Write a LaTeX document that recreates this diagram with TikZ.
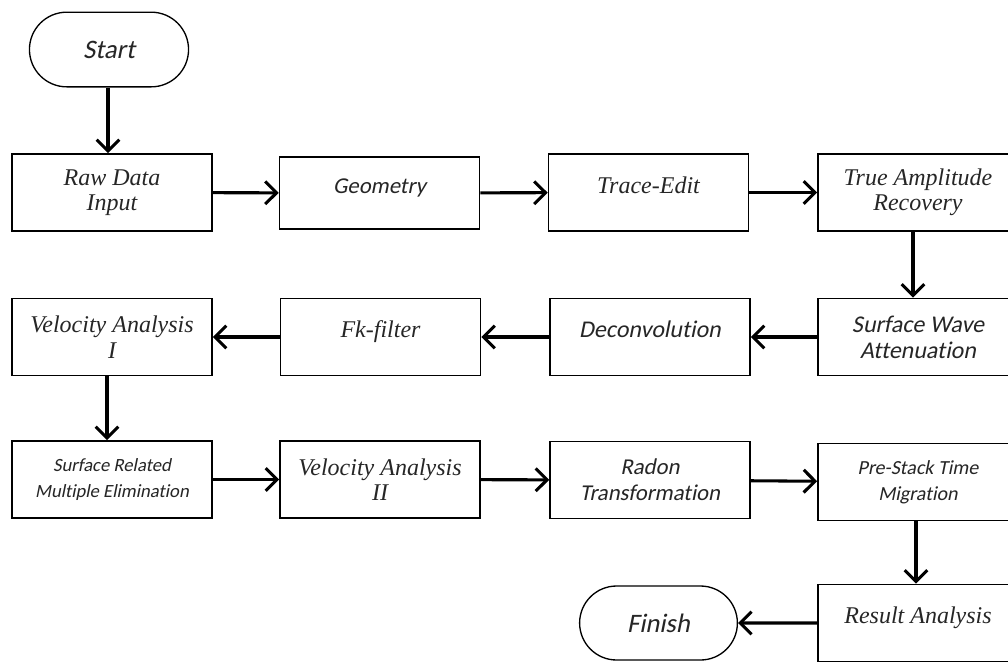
\documentclass[tikz,border=0pt]{standalone}
\usepackage{fontspec}
\setmainfont{Liberation Serif}
\newfontfamily\calfont[FakeSlant=0.2,Ligatures=NoCommon]{Carlito}
\usepackage{tikz}
\usetikzlibrary{arrows.meta,shapes.misc}

\tikzset{
  stepbox/.style={draw, line width=1.2pt, text=black!85, align=center,
    minimum width=150pt, minimum height=57.75pt, inner sep=2pt},
  oneline/.style={align=none, text height=0.75em, text depth=0.65em},
  endbox/.style={draw, line width=1pt, rounded rectangle, text=black!85,
    minimum width=126pt, minimum height=56pt},
  camb/.style={font=\fontsize{18}{19}\selectfont\itshape},
  cali/.style={font=\fontsize{#1}{19.5}\selectfont\calfont},
  flow/.style={-{Straight Barb[length=8.5pt,width=17pt,line width=2.3pt]}, line width=2.3pt},
}

\begin{document}
\begin{tikzpicture}[x=0.75pt,y=-0.75pt]
\clip (0,0) rectangle (1008,662);
\useasboundingbox (0,0) rectangle (1008,662);
%% start and first row
\node[endbox, cali=20] (start) at (109,49.5) {Start};
\node[stepbox, camb] (raw) at (112,192.5) {Raw Data\\Input};
\node[stepbox, cali=17, oneline, minimum height=54pt] (geom) at (379.5,193) {Geometry};
\node[stepbox, camb, oneline] (trace) at (648.5,192.5) {Trace-Edit};
\node[stepbox, camb] (amp) at (918,192.5) {True Amplitude\\Recovery};
%% second row, right to left
\node[stepbox, camb] (vel1) at (112,337) {Velocity Analysis\\I};
\node[stepbox, camb, oneline] (fk) at (380.5,337) {Fk-filter};
\node[stepbox, cali=18, oneline] (decon) at (650,337) {Deconvolution};
\node[stepbox, cali=18] (swa) at (918,337) {Surface Wave\\Attenuation};
%% third row
\node[stepbox, cali=14] (srme) at (112,479.5) {Surface Related\\Multiple Elimination};
\node[stepbox, camb] (vel2) at (380,479.5) {Velocity Analysis\\II};
\node[stepbox, cali=17] (radon) at (650,480) {Radon\\Transformation};
\node[stepbox, cali=15] (pstm) at (918,482) {Pre-Stack Time\\Migration};
%% result and finish
\node[stepbox, camb, oneline] (result) at (918,623) {Result Analysis};
\node[endbox, cali=20, minimum width=125pt, minimum height=55.5pt] (finish) at (658.5,623) {Finish};

%% connectors
\draw[flow] (start.south -| 108,0) -- (raw.north -| 108,0);
\draw[flow] (raw) -- (geom);
\draw[flow] (geom) -- (trace);
\draw[flow] (trace) -- (amp);
\draw[flow] (amp.south -| 913,0) -- (swa.north -| 913,0);
\draw[flow] (swa) -- (decon);
\draw[flow] (decon) -- (fk);
\draw[flow] (fk) -- (vel1);
\draw[flow] (vel1.south -| 107,0) -- (srme.north -| 107,0);
\draw[flow] (srme) -- (vel2);
\draw[flow] (vel2) -- (radon);
\draw[flow] (radon) -- (pstm);
\draw[flow] (pstm.south -| 916,0) -- (result.north -| 916,0);
\draw[flow] (result) -- (finish);
\end{tikzpicture}
\end{document}
